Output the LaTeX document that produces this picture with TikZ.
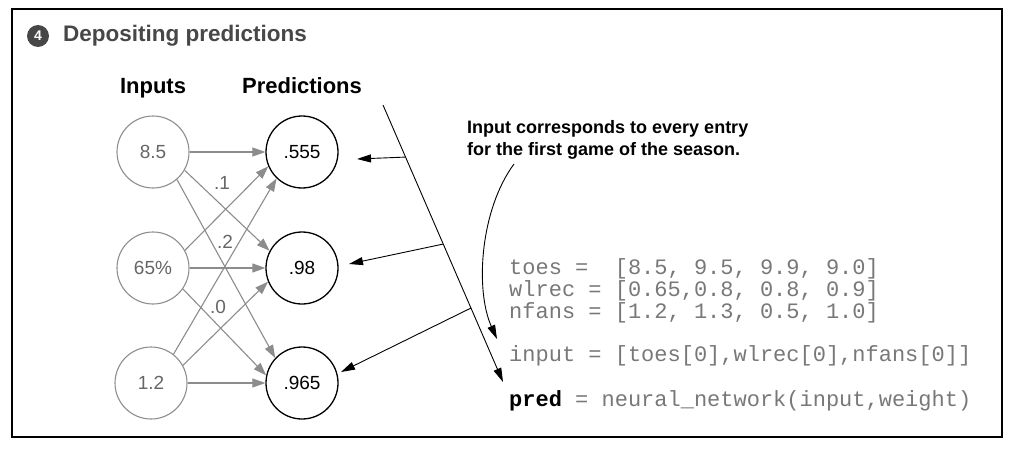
\documentclass[tikz,border=0pt]{standalone}
\usepackage{fontspec}
\setmainfont{Liberation Sans}
\setmonofont{Liberation Mono}
\usetikzlibrary{arrows.meta,calc}
\definecolor{titlegray}{HTML}{474747}
\definecolor{ingray}{HTML}{8E8E8E}
\definecolor{intext}{HTML}{666666}
\definecolor{edgegray}{HTML}{8C8C8C}
\definecolor{codegray}{HTML}{787878}
\begin{document}
\begin{tikzpicture}[x=1pt,y=-1pt,
  inbox/.style={circle,draw=ingray,line width=1.1pt,minimum size=72pt,inner sep=0,text=intext,font=\fontsize{19}{22}\selectfont},
  outbox/.style={circle,draw=black,line width=1.3pt,minimum size=72pt,inner sep=0,text=black,font=\fontsize{19}{22}\selectfont},
  hdr/.style={anchor=base,inner sep=0,font=\bfseries\fontsize{22}{26}\selectfont},
  wlabel/.style={inner sep=0,text=intext,font=\fontsize{19}{22}\selectfont},
  edge/.style={draw=edgegray,line width=1.1pt,-{Triangle[length=13pt,width=9pt]},edgegray},
  blkarr/.style={draw=black,line width=0.9pt,-{Triangle[length=14pt,width=8pt]}},
  codeline/.style={anchor=base west,inner sep=0,text=codegray,font=\ttfamily\fontsize{22}{26}\selectfont}]
\useasboundingbox (0,0) rectangle (1017,452);
\draw[line width=1.2pt] (12,9) rectangle (1002,437);

% title
\node[circle,fill=titlegray,minimum size=22pt,inner sep=0,text=white,font=\bfseries\fontsize{14}{14}\selectfont] (num) at (38,36) {4};
\node[anchor=west,inner sep=0,text=titlegray,font=\bfseries\fontsize{22.5}{26}\selectfont] (title) at (63,36) {Depositing predictions};

% headers
\node[hdr] (hin) at (153,93) {Inputs};
\node[hdr] (hout) at (302,93) {Predictions};

% circles
\node[inbox] (i1) at (153,152) {8.5};
\node[inbox] (i2) at (153,268) {65\%};
\node[inbox] (i3) at (151,383) {1.2};
\node[outbox] (o1) at (302,152) {.555};
\node[outbox] (o2) at (302,268) {.98};
\node[outbox] (o3) at (302,383) {.965};

% edges
\draw[edge] (i1.0) -- (o1.180);
\draw[edge] (i1.-30) -- (o2.152);
\draw[edge] (i1.-49) -- (o3.137);
\draw[edge] (i2.29) -- (o1.203);
\draw[edge] (i2.0) -- (o2.180);
\draw[edge] (i2.-35) -- (o3.168);
\draw[edge] (i3.52) -- (o1.226);
\draw[edge] (i3.29) -- (o2.202);
\draw[edge] (i3.0) -- (o3.180);

% weight labels
\node[wlabel] (w1) at (222,183) {.1};
\node[wlabel] (w2) at (225,242) {.2};
\node[wlabel] (w3) at (218,307) {.0};

% code
\node[codeline] (c1) at (509,274) {toes =~~[8.5, 9.5, 9.9, 9.0]};
\node[codeline] (c2) at (509,296) {wlrec = [0.65,0.8, 0.8, 0.9]};
\node[codeline] (c3) at (509,318) {nfans = [1.2, 1.3, 0.5, 1.0]};
\node[codeline] (c4) at (509,361) {input = [toes[0],wlrec[0],nfans[0]]};
\node[codeline] (c5) at (509,406) {\textcolor{black}{\bfseries pred} = neural\_network(input,weight)};

% annotation
\node[anchor=north west,inner sep=0,align=left,font=\bfseries\fontsize{18}{22}\selectfont] (note) at (467,120) {Input corresponds to every entry\\for the first game of the season.};

% slanted line with branches
\coordinate (st) at (383,105);
\coordinate (sb) at (503,382);
\draw[blkarr] (st) -- (sb);
\coordinate (b1) at ($(st)!0.188!(sb)$);
\coordinate (b2) at ($(st)!0.502!(sb)$);
\coordinate (b3) at ($(st)!0.733!(sb)$);
\draw[blkarr] (b1) -- ([shift={(55,7)}]o1.center);
\draw[blkarr] (b2) -- ([shift={(47,-4)}]o2.center);
\draw[blkarr] (b3) -- ([shift={(39,-11)}]o3.center);

% curved arrow
\coordinate (cs) at (514,164);
\coordinate (ce) at (497,339);
\draw[blkarr] (cs) .. controls (480,210) and (475,290) .. (ce);
\end{tikzpicture}
\end{document}
